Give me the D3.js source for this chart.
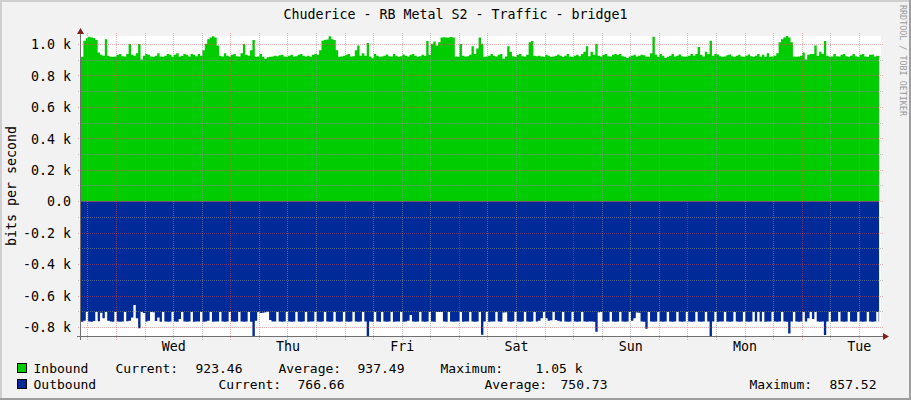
<!DOCTYPE html>
<html><head><meta charset="utf-8">
<script src="https://cdn.jsdelivr.net/npm/d3@7"></script>
<style>
html,body{margin:0;padding:0;background:#f2f2f2;}
svg{display:block;}
text{font-family:"DejaVu Sans Mono",monospace;}
</style></head><body>
<svg id="chart" width="911" height="400"></svg>
<script>
const title = "Chuderice - RB Metal S2 - Traffic - bridge1";
const yAxisTitle = "bits per second";
const watermark = "RRDTOOL / TOBI OETIKER";
const dayLabels = ["Wed","Thu","Fri","Sat","Sun","Mon","Tue"];
const yTickValues = [-800,-600,-400,-200,0,200,400,600,800,1000];
const yTickLabels = ["-0.8 k","-0.6 k","-0.4 k","-0.2 k","0.0","0.2 k","0.4 k","0.6 k","0.8 k","1.0 k"];
const yMinorValues = [-700,-500,-300,-100,100,300,500,700,900];
const startTime = Date.UTC(2024,0,2,16,39);
const stepMinutes = 30;
const seriesNames = ["Inbound","Outbound"];
const statLabels = ["Current:","Average:","Maximum:"];
const inboundStats = ["923.46","937.49","1.05 k"];
const outboundStats = ["766.66","750.73","857.52"];

const inbound = [
918,1020,1035,1045,1040,1038,1025,945,930,925,1030,925,
918,918,920,930,935,922,920,935,999,930,925,940,
999,900,925,935,930,920,918,925,940,920,918,925,
935,930,918,930,940,920,925,935,930,920,935,930,
922,935,925,960,1000,1030,1040,1048,1040,990,925,920,
940,925,920,930,935,922,920,940,999,930,925,960,
1024,918,920,935,918,905,915,918,920,925,922,928,
930,920,918,925,930,920,922,930,935,925,920,925,
918,930,935,930,960,1020,1025,1028,1048,1030,1025,960,
918,920,925,930,935,920,922,960,990,925,940,925,
1005,920,908,935,925,918,920,925,932,922,920,935,
925,918,922,932,925,920,930,935,925,918,922,930,
925,1018,930,1000,1015,990,1010,1040,1042,1040,1040,1043,
1040,920,918,999,925,920,922,930,985,935,970,1040,
1000,918,920,925,935,925,920,930,935,905,920,985,
950,922,918,930,935,922,920,930,1010,1018,925,922,
925,920,918,930,925,918,920,925,932,925,918,925,
935,920,918,925,930,922,935,950,985,922,950,930,
1000,925,920,930,935,922,920,930,935,930,935,922,
918,910,920,925,930,920,925,930,928,920,918,940,
1045,930,918,935,925,910,918,925,935,920,925,932,
922,918,920,925,935,925,935,980,930,920,950,935,
1020,925,935,932,922,918,920,928,932,922,918,925,
930,920,918,925,932,922,918,925,935,918,930,918,
940,918,920,925,940,1010,1030,1040,1050,1040,1010,920,
918,920,925,945,900,930,935,935,990,925,950,935,
1018,925,918,920,935,922,920,930,935,922,918,925,
935,922,918,930,935,920,918,930,932,920,925,923
];

const outbound = [
767,760,705,765,767,762,705,764,710,745,705,760,
766,767,705,766,767,765,705,764,760,740,661,745,
809,705,712,766,760,705,706,762,740,767,705,766,
767,765,705,766,767,750,705,765,767,766,705,767,
765,766,705,767,766,760,705,767,766,765,705,766,
767,765,705,766,767,765,705,766,767,765,705,767,
857.5,760,705,712,710,706,703,755,766,765,705,766,
767,765,705,766,767,765,705,766,767,765,705,767,
766,765,705,766,767,765,705,766,767,765,705,766,
767,765,705,766,767,765,705,766,767,765,705,766,
857.5,766,767,705,766,767,705,766,767,766,705,767,
766,765,705,767,766,760,724,766,767,765,705,766,
767,765,705,766,767,705,705,705,766,767,705,766,
767,765,766,705,767,766,765,705,766,767,765,705,
850,766,705,767,766,765,705,766,767,708,706,766,
767,765,705,766,767,765,705,766,767,765,705,766,
760,745,705,745,760,757,705,755,760,766,705,766,
767,765,705,766,767,765,705,766,767,765,766,767,
830,706,705,766,767,765,705,766,767,765,705,766,
767,765,705,760,745,708,710,766,767,812,705,766,
767,765,705,766,767,765,705,766,767,765,705,766,
767,765,705,766,767,765,705,766,767,765,705,766,
857.5,766,705,767,766,765,705,766,767,765,705,766,
767,765,705,766,767,765,705,766,705,766,705,767,
766,765,705,766,767,765,705,766,767,841,766,705,
766,767,765,705,766,745,705,750,705,766,767,765,
851,766,705,767,766,765,705,766,767,765,705,766,
767,765,705,766,767,765,705,766,767,765,705,767
];

const colIn = "#00CC00", colOut = "#002A97";
const FS = "13.3px", LFS = "13px";
const svg = d3.select("#chart");
const W = 911, H = 400;
const L = 81, R = 881, T = 36, B = 336;
const stepMs = stepMinutes*60000;
const t0 = new Date(startTime), t1 = new Date(startTime + 7*24*3600000);

svg.append("rect").attr("width",W).attr("height",H).attr("fill","#f2f2f2");
svg.append("path").attr("d",`M0,0H${W}V2H2V${H}H0Z`).attr("fill","#cfcfcf");
svg.append("path").attr("d",`M${W},0V${H}H0V${H-2}H${W-2}V0Z`).attr("fill","#9e9e9e");

const x = d3.scaleUtc().domain([t0,t1]).range([L,R]);
const y = d3.scaleLinear().domain([-d3.max(outbound), d3.max(inbound)]).range([B,T]);

svg.append("rect").attr("x",L).attr("y",T).attr("width",R-L).attr("height",B-T).attr("fill","#fff");

function pts(arr, sign){
  const p = arr.map((v,i)=>({t:new Date(startTime+i*stepMs), v:sign*v}));
  p.push({t:new Date(startTime+(arr.length-0.8)*stepMs), v:sign*arr[arr.length-1]});
  return p;
}
const area = d3.area().x(d=>x(d.t)).y0(y(0)).y1(d=>y(d.v)).curve(d3.curveStepAfter);
svg.append("path").datum(pts(inbound,1)).attr("d",area).attr("fill",colIn);
svg.append("path").datum(pts(outbound,-1)).attr("d",area).attr("fill",colOut);

// grid (drawn over the data, like the reference)
const g = svg.append("g").attr("shape-rendering","crispEdges");
const minorCol = "rgba(143,143,143,0.55)", majorCol = "rgba(222,79,79,0.45)";
const cy = v => Math.round(y(v))+0.5;
const cx = d => Math.round(x(d))+0.5;
function hline(v,col){ g.append("line").attr("x1",78).attr("x2",884).attr("y1",cy(v)).attr("y2",cy(v)).attr("stroke",col).attr("stroke-dasharray","1,1"); }
function vline(d,col){ g.append("line").attr("x1",cx(d)).attr("x2",cx(d)).attr("y1",33).attr("y2",340).attr("stroke",col).attr("stroke-dasharray","1,1"); }
yMinorValues.forEach(v=>hline(v,minorCol));
yTickValues.forEach(v=>hline(v,majorCol));
const days = d3.utcDay.range(t0,t1);
const sixH = d3.utcHour.every(6).range(t0,t1).filter(d=>d.getUTCHours()!==0);
sixH.forEach(d=>vline(d,minorCol));
days.forEach(d=>vline(d,majorCol));

// axes lines + arrows
svg.append("line").attr("x1",77).attr("x2",885).attr("y1",336.5).attr("y2",336.5).attr("stroke","#707070");
svg.append("line").attr("x1",80.5).attr("x2",80.5).attr("y1",340).attr("y2",32).attr("stroke","#707070");
svg.append("path").attr("d","M883,333L889,336.5L883,340Z").attr("fill","#801f1f");
svg.append("path").attr("d","M77,34L80.5,28L84,34Z").attr("fill","#801f1f");

// y axis labels
const ya = svg.append("g").attr("transform",`translate(80,0)`)
  .call(d3.axisLeft(y).tickValues(yTickValues).tickFormat((d,i)=>yTickLabels[i]).tickSize(0).tickPadding(9));
ya.select(".domain").remove();
ya.selectAll("text").attr("font-family","DejaVu Sans Mono").attr("font-size",FS).attr("fill","#000").attr("dy","0.36em");

// x axis labels at noon
const noons = days.map(d=>new Date(+d+12*3600000));
const xa = svg.append("g").attr("transform",`translate(0,${B})`)
  .call(d3.axisBottom(x).tickValues(noons).tickFormat((d,i)=>dayLabels[i]).tickSize(0).tickPadding(6));
xa.select(".domain").remove();
xa.selectAll("text").attr("font-family","DejaVu Sans Mono").attr("font-size",FS).attr("fill","#000");

svg.append("text").attr("x",455.5).attr("y",18.5).attr("text-anchor","middle").attr("font-size",FS).text(title);
svg.append("text").attr("transform","translate(16,186) rotate(-90)").attr("text-anchor","middle").attr("font-size",FS).text(yAxisTitle);
svg.append("text").attr("transform","translate(899.5,5) rotate(90)").attr("font-size","8.4px").attr("fill","#9a9a9a").text(watermark);

// legend
const legRows = [
  {name:seriesNames[0], col:colIn, stats:inboundStats, by:373, pos:[116,196,279,358,441,536]},
  {name:seriesNames[1], col:colOut, stats:outboundStats, by:389, pos:[219,298,485,561,750,830]}
];
legRows.forEach(r=>{
  svg.append("rect").attr("x",17.5).attr("y",r.by-9.5).attr("width",9).attr("height",9).attr("fill",r.col).attr("stroke","#000");
  svg.append("text").attr("x",33.5).attr("y",r.by).attr("font-size",LFS).text(r.name);
  statLabels.forEach((s,k)=>{
    svg.append("text").attr("x",r.pos[2*k]-0.5).attr("y",r.by).attr("font-size",LFS).text(s);
    svg.append("text").attr("x",r.pos[2*k+1]-0.5).attr("y",r.by).attr("font-size",LFS).text(r.stats[k]);
  });
});
</script>
</body></html>
